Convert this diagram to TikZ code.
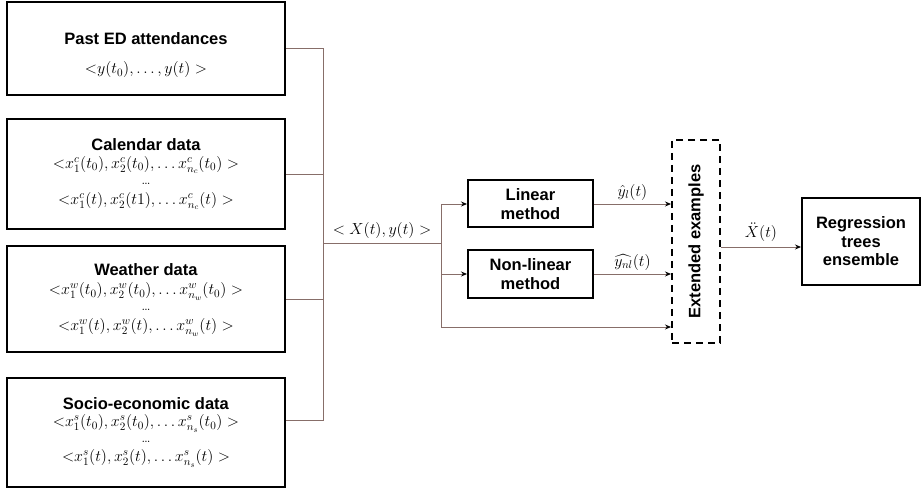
\RequirePackage{fix-cm}
\documentclass[tikz,border=0pt]{standalone}
\usepackage{fontspec}
\setsansfont{Liberation Sans}
\usepackage{amssymb,amsmath}
\usetikzlibrary{positioning}
\usetikzlibrary{arrows.meta}

\definecolor{wirecol}{RGB}{135,110,105}
\newcommand{\boxtitle}[1]{\textsf{\bfseries\fontsize{16.5}{18}\selectfont #1}}

\begin{document}
\begin{tikzpicture}[x=1pt,y=-1pt]
\useasboundingbox (0,0) rectangle (922,489);

% data sources
\begin{scope}[every node/.style={rectangle,draw,line width=2pt,align=center,inner sep=0pt,
              minimum width=278pt,font=\fontsize{16}{17}\selectfont}]
    \node [minimum height=93pt] (past) at (146,48.5)
        {\rule{0pt}{26pt}\boxtitle{Past ED attendances}\\[12pt]
         ${<}y(t_0), \ldots, y(t) >$};
    \node [minimum height=110pt] (cal) at (146,174)
        {\boxtitle{Calendar data}\\[1pt]
         ${<}x_1^c(t_0), x_2^c(t_0), \ldots x_{n_c}^c(t_0) >$\\[-1pt]
         \ldots\\[3pt]
         ${<}x_1^c(t), x_2^c(t1), \ldots x_{n_c}^c(t) >$};
    \node [minimum height=106pt] (weather) at (146,299)
        {\rule{0pt}{14pt}\boxtitle{Weather data}\\[2pt]
         ${<}x_1^w(t_0), x_2^w(t_0), \ldots x_{n_w}^w(t_0) >$\\[-1pt]
         \ldots\\[3pt]
         ${<}x_1^w(t), x_2^w(t), \ldots x_{n_w}^w(t) >$};
    \node [minimum height=109pt] (socio) at (146,432.5)
        {\boxtitle{Socio-economic data}\\[0pt]
         ${<}x_1^s(t_0), x_2^s(t_0), \ldots x_{n_s}^s(t_0) >$\\[-1pt]
         \ldots\\[2pt]
         ${<}x_1^s(t), x_2^s(t), \ldots x_{n_s}^s(t) >$};
\end{scope}

% methods and model
\begin{scope}[every node/.style={rectangle,draw,line width=2pt,align=center,inner sep=0pt,
              font=\sffamily\bfseries\fontsize{16.5}{18.5}\selectfont}]
    \node [minimum width=125pt,minimum height=47pt] (lin) at (530.5,204) {Linear\\method};
    \node [minimum width=125pt,minimum height=48pt] (nonlin) at (530.5,274) {Non-linear\\method};
    \node [dashed,dash pattern=on 7pt off 5pt,minimum width=48pt,minimum height=203pt] (ext) at (696,241.5)
        {\rotatebox{90}{Extended examples}};
    \node [minimum width=118pt,minimum height=87pt] (reg) at (861,241.5) {Regression\\trees\\ensemble};
\end{scope}

\coordinate (bustop) at (323,47);
\coordinate (busbot) at (323,420);
\coordinate (busmid) at (323,243);
\coordinate (split) at (441,243);

\begin{scope}[>={Stealth[length=6pt,width=5pt,black]},
              every node/.style={font=\fontsize{16}{18}\selectfont,inner sep=1pt},
              every path/.style={draw=wirecol,line width=0.8pt}]
     \draw (past.east) -| (busbot) -- ([yshift=12.5pt]socio.east);
     \draw (cal.east) -- (cal.east -| bustop);
     \draw (weather.east) -- (weather.east -| bustop);

     \draw (busmid) -- (split) node [midway,above=3pt] (xy) {$< X(t), y(t) >$};
     \draw [->] (split) |- (lin.west);
     \draw [->] (split) |- (nonlin.west);
     \draw [->] (split) |- ([yshift=17pt]ext.south west);

     \draw [->] (lin.east) -- (lin.east -| ext.west) node [midway,above=2pt] (ylin) {$\hat{y}_l(t)$};
     \draw [->] (nonlin.east) -- (nonlin.east -| ext.west) node [midway,above=2pt] (ynl) {$\widehat{y_{nl}}(t)$};
     \draw [->] ([yshift=-5.5pt]ext.east) -- ([yshift=-5.5pt]reg.west) node [midway,above=4pt] (xdd) {$\ddot{X}(t)$};
\end{scope}
\end{tikzpicture}
\end{document}
